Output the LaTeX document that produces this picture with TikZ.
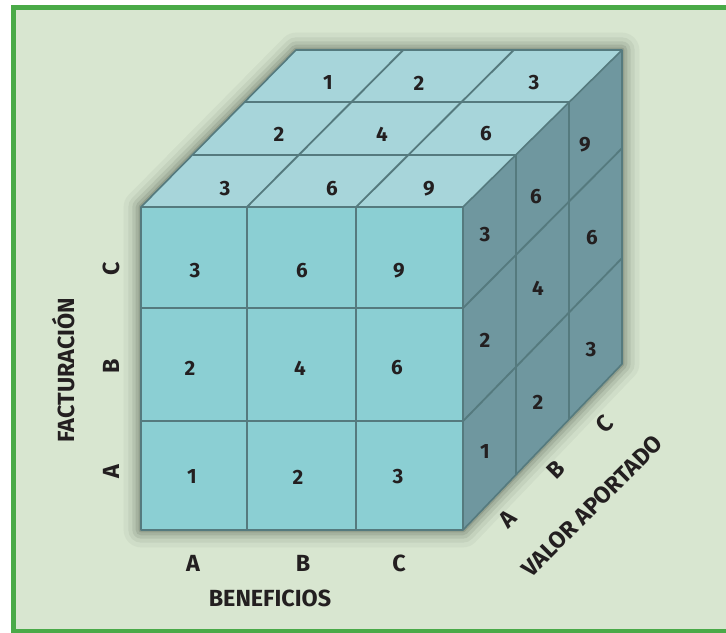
\documentclass[tikz,border=0pt]{standalone}
\usepackage{fontspec}
\setmainfont{Fira Sans}
\usetikzlibrary{calc}
\definecolor{bg}{HTML}{D8E6D0}
\definecolor{frame}{HTML}{4AAA48}
\definecolor{frontc}{HTML}{8BCFD3}
\definecolor{topc}{HTML}{A7D5DA}
\definecolor{rightc}{HTML}{6F979F}
\definecolor{linec}{HTML}{557A7E}
\definecolor{shadowc}{HTML}{3A4636}
\definecolor{txt}{HTML}{231F20}
\begin{document}
\begin{tikzpicture}[x=0.75pt,y=-0.75pt,
  lbl/.style={font=\fontsize{15.5}{18}\selectfont\bfseries, text=txt, inner sep=0pt},
  axislbl/.style={font=\fontsize{17.5}{20}\selectfont\bfseries, text=txt, inner sep=0pt},
  gridline/.style={draw=linec, line width=1.4pt},
  edge/.style={draw=linec, line width=1.2pt, line join=round}]
\useasboundingbox (0,0) rectangle (726,633);
\fill[white] (0,0) rectangle (726,633);
\begin{scope}
  \clip (0,0) rectangle (726,633);
  \filldraw[fill=bg, draw=frame, line width=3.75pt] (13.5,7.5) rectangle (760,631.5);
\end{scope}
% cube corners
\coordinate (F1) at (141,207);
\coordinate (F2) at (463,207);
\coordinate (F3) at (463,530);
\coordinate (F4) at (141,530);
\coordinate (B1) at (296,50);
\coordinate (B2) at (622,50);
\coordinate (B3) at (622,364);
% shadow glow
\foreach \w/\o in {26pt/0.05, 19pt/0.07, 13pt/0.10, 8pt/0.13, 3.5pt/0.18}{
  \draw[shadowc, line width=\w, opacity=\o, line join=round]
    (F4)--(F1)--(B1)--(B2)--(B3)--(F3)--cycle;
}
% faces
\fill[topc] (F1)--(B1)--(B2)--(F2)--cycle;
\fill[rightc] (F2)--(B2)--(B3)--(F3)--cycle;
\fill[frontc] (F1)--(F2)--(F3)--(F4)--cycle;
% front grid
\draw[gridline] (247,207)--(247,530);
\draw[gridline] (356,207)--(356,530);
\draw[gridline] (141,308)--(463,308);
\draw[gridline] (141,421)--(463,421);
% right grid
\draw[gridline] ($(F2)!1/3!(B2)$)--($(F3)!1/3!(B3)$);
\draw[gridline] ($(F2)!2/3!(B2)$)--($(F3)!2/3!(B3)$);
\draw[gridline] ($(F2)!0.313!(F3)$)--($(B2)!0.313!(B3)$);
\draw[gridline] ($(F2)!0.663!(F3)$)--($(B2)!0.663!(B3)$);
% top grid
\draw[gridline] ($(F1)!1/3!(B1)$)--($(F2)!1/3!(B2)$);
\draw[gridline] ($(F1)!2/3!(B1)$)--($(F2)!2/3!(B2)$);
\draw[gridline] ($(F1)!0.329!(F2)$)--($(B1)!0.329!(B2)$);
\draw[gridline] ($(F1)!0.668!(F2)$)--($(B1)!0.668!(B2)$);
% edges
\draw[edge] (F4)--(F1)--(B1)--(B2)--(B3)--(F3)--cycle;
\draw[edge] (F1)--(F2)--(F3);
\draw[edge] (F2)--(B2);
% top numbers
\node[lbl] (t11) at (328,83) {1};
\node[lbl] (t12) at (419,83) {2};
\node[lbl] (t13) at (534,83) {3};
\node[lbl] (t21) at (279,134) {2};
\node[lbl] (t22) at (382,134) {4};
\node[lbl] (t23) at (486,134) {6};
\node[lbl] (t31) at (225,189) {3};
\node[lbl] (t32) at (332,189) {6};
\node[lbl] (t33) at (429,189) {9};
% front numbers
\node[lbl] (fc1) at (195,271) {3};
\node[lbl] (fc2) at (302,271) {6};
\node[lbl] (fc3) at (399,271) {9};
\node[lbl] (fb1) at (190,368) {2};
\node[lbl] (fb2) at (300,368) {4};
\node[lbl] (fb3) at (397,368) {6};
\node[lbl] (fa1) at (192,477) {1};
\node[lbl] (fa2) at (298,477) {2};
\node[lbl] (fa3) at (398,477) {3};
% right numbers
\node[lbl] (ra3) at (485,235) {3};
\node[lbl] (ra2) at (485,340) {2};
\node[lbl] (ra1) at (485,452) {1};
\node[lbl] (rb3) at (536,197) {6};
\node[lbl] (rb2) at (538,288) {4};
\node[lbl] (rb1) at (538,402) {2};
\node[lbl] (rc3) at (585,145) {9};
\node[lbl] (rc2) at (592,238) {6};
\node[lbl] (rc1) at (591,350) {3};
% left axis
\node[axislbl, rotate=90] (lc) at (111,269) {C};
\node[axislbl, rotate=90] (lb) at (111,366) {B};
\node[axislbl, rotate=90] (la) at (111,472) {A};
\node[axislbl, rotate=90] (fact) at (64,370) {FACTURACIÓN};
% bottom axis
\node[axislbl] (ba) at (193,563) {A};
\node[axislbl] (bb) at (303,563) {B};
\node[axislbl] (bc) at (399,563) {C};
\node[axislbl] (ben) at (270,598) {BENEFICIOS};
% diagonal axis
\node[axislbl, rotate=45] (da) at (508,519) {A};
\node[axislbl, rotate=45] (db) at (556,470) {B};
\node[axislbl, rotate=45] (dc) at (605,424) {C};
\node[axislbl, rotate=45] (val) at (592,506) {VALOR APORTADO};
\end{tikzpicture}
\end{document}
